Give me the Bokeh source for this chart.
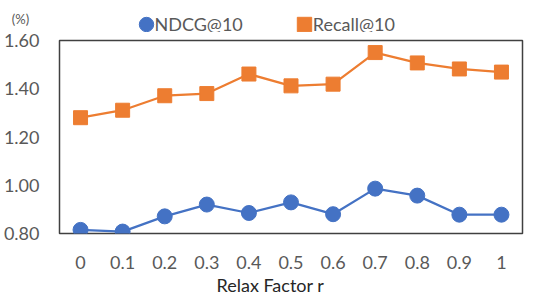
from bokeh.plotting import figure
from bokeh.layouts import column
from bokeh.models import (FactorRange, Range1d, FixedTicker, NumeralTickFormatter,
                          Legend, LegendItem, Label, Title, ColumnDataSource)
from bokeh.embed import file_html
from bokeh.resources import INLINE

factors = ["0", "0.1", "0.2", "0.3", "0.4", "0.5", "0.6", "0.7", "0.8", "0.9", "1"]
ndcg = [0.815, 0.808, 0.871, 0.920, 0.885, 0.929, 0.880, 0.986, 0.957, 0.878, 0.878]
recall = [1.280, 1.311, 1.371, 1.380, 1.461, 1.412, 1.419, 1.550, 1.507, 1.482, 1.469]
y_ticks = [0.8, 1.0, 1.2, 1.4, 1.6]

BLUE = "#4472C4"
ORANGE = "#ED7D31"
GRAY = "#595959"
FONT = "Lato"

# ---------- top strip: unit note + legend ----------
top = figure(width=524, height=32, x_range=Range1d(0, 524), y_range=Range1d(0, 32),
             output_backend="svg", toolbar_location=None, min_border=0,
             x_axis_location=None, y_axis_location=None)
top.frame_align = False
top.outline_line_color = None
top.grid.visible = False
# legend-only proxies (a single point kept outside the visible range)
proxy = ColumnDataSource(dict(x=[-1000], y=[-1000]))
d_ndcg = top.ellipse("x", "y", width=10, height=10, source=proxy,
                     fill_color=BLUE, line_color=BLUE)
d_rec = top.rect("x", "y", width=10, height=10, source=proxy,
                 fill_color=ORANGE, line_color=ORANGE)
legend = Legend(items=[LegendItem(label="NDCG@10", renderers=[d_ndcg]),
                       LegendItem(label="Recall@10", renderers=[d_rec])],
                orientation="horizontal", location=(136.5, -3),
                glyph_width=18, glyph_height=18, label_standoff=0, spacing=52,
                padding=0, margin=0, border_line_color=None,
                background_fill_alpha=0,
                label_text_font=FONT, label_text_font_size="18px",
                label_text_color=GRAY)
top.add_layout(legend)
top.add_layout(Label(x=20, y=14, x_units="screen", y_units="screen",
                     text="(%)", text_font=FONT, text_font_size="13px",
                     text_color=GRAY, text_align="center", text_baseline="middle"))

# ---------- main chart ----------
src = ColumnDataSource(dict(x=factors, ndcg=ndcg, recall=recall))

p = figure(width=524, height=264, x_range=FactorRange(*factors),
           y_range=Range1d(0.8, 1.6), output_backend="svg", toolbar_location=None,
           min_border_left=53, min_border_right=2, min_border_top=8, min_border_bottom=63)
p.frame_align = False
p.background_fill_color = "white"
p.border_fill_color = "white"
p.outline_line_color = "#404040"
p.outline_line_width = 1.5
p.xgrid.visible = False
p.ygrid.visible = False
p.x_range.range_padding = 0

for ax in (p.xaxis[0], p.yaxis[0]):
    ax.axis_line_color = None
    ax.major_tick_line_color = None
    ax.minor_tick_line_color = None
    ax.major_tick_out = 0
    ax.major_tick_in = 0
    ax.major_label_text_font = FONT
    ax.major_label_text_font_size = "18px"
    ax.major_label_text_color = GRAY

p.yaxis[0].ticker = FixedTicker(ticks=y_ticks)
p.yaxis[0].formatter = NumeralTickFormatter(format="0.00")
p.yaxis[0].major_label_standoff = 20
p.xaxis[0].major_label_standoff = 22

p.line("x", "recall", source=src, color=ORANGE, line_width=2.25)
p.scatter("x", "recall", source=src, marker="square", size=14,
          fill_color=ORANGE, line_color=ORANGE)
p.line("x", "ndcg", source=src, color=BLUE, line_width=2.25)
p.scatter("x", "ndcg", source=src, marker="circle", size=15,
          fill_color=BLUE, line_color=BLUE)

p.add_layout(Title(text="Relax Factor r", align="left", offset=157,
                   text_font=FONT, text_font_size="18px", text_font_style="normal",
                   text_color="#262626", standoff=1), "below")

layout = column(top, p, spacing=0)
open("out.html", "w").write(file_html(layout, INLINE))
